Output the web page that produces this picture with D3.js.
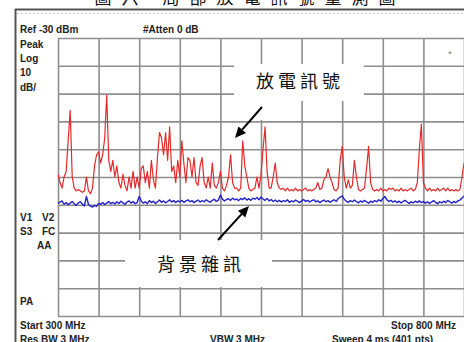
<!DOCTYPE html>
<html><head><meta charset="utf-8">
<script src="https://cdn.jsdelivr.net/npm/d3@7/dist/d3.min.js"></script>
<style>
html,body{margin:0;padding:0;background:#fff;}
svg{display:block;}
.lbl{font-family:"Liberation Sans",Arial,sans-serif;font-weight:bold;font-size:10px;fill:#222;}
.cjk{font-family:"Noto Sans CJK TC","Noto Sans CJK SC",sans-serif;font-size:18px;fill:#111;letter-spacing:4px;}
</style></head>
<body>
<svg id="c" width="464" height="342"></svg>
<script>
// Sweep settings
const startMHz = 300, stopMHz = 800, sweepPoints = 201;
const refLevel = -30, dbPerDiv = 10, divisions = 10;
const freqTicks = [300,350,400,450,500,550,600,650,700,750,800];
const levelTicks = [-130,-120,-110,-100,-90,-80,-70,-60,-50,-40,-30];

// Discharge signal (red) in dBm
const signalDbm = [
-79,-82,-84,-80,-78,-67,-56,-80,-84,-85,
-84.5,-85,-85.5,-85,-80,-85,-86,-84,-76,-72,
-71,-75,-72,-66,-50.5,-74,-78,-74,-80,-76,
-82,-84,-79,-83,-85,-80,-84,-78,-84,-80,
-84,-77,-76,-82,-78,-84,-74,-81,-84,-73,
-64,-66,-72,-64,-74,-62,-78,-76,-82,-74,
-80,-67,-75,-82,-73,-74,-80,-73,-82,-83,
-76,-73,-82,-84,-80,-84,-75,-83,-84,-82,
-78,-84,-85,-83,-80,-72,-82,-84,-84,-85,
-84,-67,-76,-80,-84,-85,-84.5,-84,-80,-84,
-79,-70,-62,-78,-84,-84,-80,-75,-82,-84,
-84.5,-84,-85,-84,-85,-84.5,-85,-84,-85,-84.5,
-85,-84.5,-84,-85,-84.5,-85,-84.5,-84,-82,-84.5,
-84,-81,-80,-77,-80,-82,-84.5,-85,-84,-74,
-69,-80,-84,-81,-84,-83,-74,-80,-84.5,-85,
-84.5,-84,-77,-69,-82,-84.5,-85,-84.5,-85,-84,
-85,-84.5,-85,-84,-84.5,-84,-85,-84.5,-85,-84,
-85,-84.5,-85,-84.5,-84,-85,-84.5,-82,-70,-61,
-82,-84,-85,-84,-85,-84.5,-85,-84,-85,-84.5,
-84,-85,-84,-85,-84.5,-85,-84.5,-85,-84.5,-80,
-75];

// Background noise (blue) in dBm
const noiseDbm = [
-89.5,-89,-88.6,-89.8,-89.2,-90,-89.4,-88.8,-89.6,-90.2,
-89.3,-88.9,-89.7,-90.4,-87,-89.8,-90.5,-90.8,-90.2,-90.6,
-89.5,-89.8,-89.2,-89.9,-89.4,-88.8,-89.6,-89.1,-89.7,-88.9,
-89.5,-88.7,-89.3,-89.8,-89,-88.6,-89.4,-88.8,-89.6,-89.2,
-87,-88.6,-89.4,-88.9,-89.6,-88.5,-89.2,-88.7,-89.5,-88.9,
-88.3,-89.1,-88.6,-89.3,-88.8,-88.2,-89,-88.5,-89.2,-88.6,
-88.9,-88.4,-89.1,-88.6,-88.2,-88.9,-88.5,-89.2,-88.7,-88.3,
-89,-88.5,-88.9,-88.2,-88.7,-89.1,-88.4,-88,-88.8,-88.3,
-86.5,-88,-88.6,-88.1,-87.8,-88.4,-87.6,-88.2,-87.9,-88.5,
-87.7,-88.1,-87.5,-88.3,-87.8,-88.4,-87.6,-88,-87.4,-88.2,
-87.2,-87.9,-88.4,-87.7,-88.6,-88.1,-88.8,-88.3,-88.9,-88.4,
-89,-88.5,-88.8,-88.2,-89.1,-88.6,-88.9,-88.3,-88.7,-89.2,
-88.6,-88.1,-88.8,-88.4,-89,-88.5,-88.2,-88.9,-88.6,-89.2,
-88.7,-88.3,-88.9,-88.5,-89.1,-88.6,-88.2,-88.8,-87.8,-87.2,
-86.8,-88,-88.7,-89.1,-88.5,-88.9,-88.3,-88.8,-89.3,-88.6,
-89,-88.4,-88.9,-89.4,-88.7,-89.1,-88.5,-88.9,-88.2,-88.7,
-87.8,-87,-88.2,-88.8,-88.4,-89,-88.6,-89.2,-88.7,-89.3,
-88.8,-88.4,-89,-89.5,-88.9,-89.3,-88.7,-89.1,-88.6,-89.2,
-88.8,-89.4,-88.9,-89.5,-89,-88.5,-89.1,-89.6,-88.9,-89.3,
-88.7,-89.2,-88.4,-88.9,-89.4,-88.8,-89.2,-88.6,-88.3,-87.6,
-86.8];

const screenLabels = [
  {t:"Ref -30 dBm", x:20, y:33},
  {t:"#Atten 0 dB", x:143, y:33},
  {t:"Peak", x:20, y:48},
  {t:"Log", x:20, y:62},
  {t:"10", x:20, y:76},
  {t:"dB/", x:20, y:91},
  {t:"V1", x:20, y:221},
  {t:"V2", x:42, y:221},
  {t:"S3", x:20, y:235},
  {t:"FC", x:42, y:235},
  {t:"AA", x:37, y:249},
  {t:"PA", x:20, y:305},
  {t:"Start 300 MHz", x:20, y:329},
  {t:"Res BW 3 MHz", x:20, y:343},
  {t:"VBW 3 MHz", x:210, y:343},
  {t:"Sweep 4 ms (401 pts)", x:332, y:343}
];

const freqs = d3.range(sweepPoints).map(i => startMHz + i*(stopMHz-startMHz)/(sweepPoints-1));

const svg = d3.select("#c");
const L = 58, R = 464, T = 38, B = 316;
const x = d3.scaleLinear().domain([startMHz, stopMHz]).range([L, R]);
const y = d3.scaleLinear().domain([refLevel - dbPerDiv*divisions, refLevel]).range([B, T]);

// top cut-off title
svg.append("text").attr("x", 250).attr("y", 4).attr("text-anchor","middle")
  .style("font-family","Noto Sans CJK TC").style("font-size","17px").style("fill","#111")
  .style("letter-spacing","10px").text("圖六  局部放電訊號量測圖");

// instrument frame
svg.append("line").attr("x1",15).attr("x2",464).attr("y1",9.5).attr("y2",9.5).attr("stroke","#555").attr("stroke-width",2);
svg.append("line").attr("x1",17).attr("x2",464).attr("y1",13.5).attr("y2",13.5).attr("stroke","#ccc").attr("stroke-width",1).attr("stroke-dasharray","2,2");
svg.append("line").attr("x1",15.5).attr("x2",15.5).attr("y1",9).attr("y2",342).attr("stroke","#555").attr("stroke-width",2);

// grid via axes
const gx = svg.append("g").attr("transform",`translate(0,${B})`)
  .call(d3.axisBottom(x).tickValues(freqTicks).tickSize(-(B-T)).tickFormat(""));
const gy = svg.append("g").attr("transform",`translate(${L},0)`)
  .call(d3.axisLeft(y).tickValues(levelTicks).tickSize(-(R-L)).tickFormat(""));
[gx, gy].forEach(g => {
  g.select(".domain").remove();
  g.selectAll(".tick line").attr("stroke","#8e8e8e").attr("stroke-width",1.6);
});

svg.append("defs").append("clipPath").attr("id","clip")
  .append("rect").attr("x",L).attr("y",T-2).attr("width",R-L).attr("height",B-T+2);

const line = d3.line().x((d,i) => x(freqs[i])).y(d => y(d));
svg.append("path").datum(signalDbm).attr("d", line).attr("clip-path","url(#clip)")
  .attr("fill","none").attr("stroke","#e52a2a").attr("stroke-width",1.2).attr("stroke-linejoin","round");
svg.append("path").datum(noiseDbm).attr("d", line).attr("clip-path","url(#clip)")
  .attr("fill","none").attr("stroke","#2222cc").attr("stroke-width",1.4).attr("stroke-linejoin","round");

// labels
svg.selectAll("text.lbl").data(screenLabels).enter().append("text").attr("class","lbl")
  .attr("x", d => d.x).attr("y", d => d.y).text(d => d.t);
svg.append("text").attr("class","lbl").attr("x",456).attr("y",329).attr("text-anchor","end").text("Stop 800 MHz");
svg.append("text").attr("x",450).attr("y",57).attr("text-anchor","middle").style("font-family","Liberation Sans").style("font-size","9px").style("fill","#777").text("*");

// annotation boxes
svg.append("rect").attr("x",234).attr("y",64).attr("width",130).attr("height",37).attr("fill","#fff");
svg.append("rect").attr("x",234).attr("y",100).attr("width",34).attr("height",20).attr("fill","#fff");
svg.append("rect").attr("x",125).attr("y",240).attr("width",147).attr("height",47).attr("fill","#fff");

svg.append("text").attr("class","cjk").attr("x",300).attr("y",88).attr("text-anchor","middle").text("放電訊號");
svg.append("text").attr("class","cjk").attr("x",201).attr("y",271).attr("text-anchor","middle").text("背景雜訊");

function arrow(x1,y1,x2,y2){
  const a = Math.atan2(y2-y1, x2-x1), len = 11, w = 5;
  const bx = x2 - len*Math.cos(a), by = y2 - len*Math.sin(a);
  svg.append("line").attr("x1",x1).attr("y1",y1).attr("x2",bx).attr("y2",by).attr("stroke","#000").attr("stroke-width",2);
  const p = [[x2,y2],[bx + w*Math.sin(a), by - w*Math.cos(a)],[bx - w*Math.sin(a), by + w*Math.cos(a)]];
  svg.append("path").attr("d","M"+p.map(q=>q.join(",")).join("L")+"Z").attr("fill","#000");
}
arrow(262,107,235,138);
arrow(218,240,249,206);
</script>
</body></html>
